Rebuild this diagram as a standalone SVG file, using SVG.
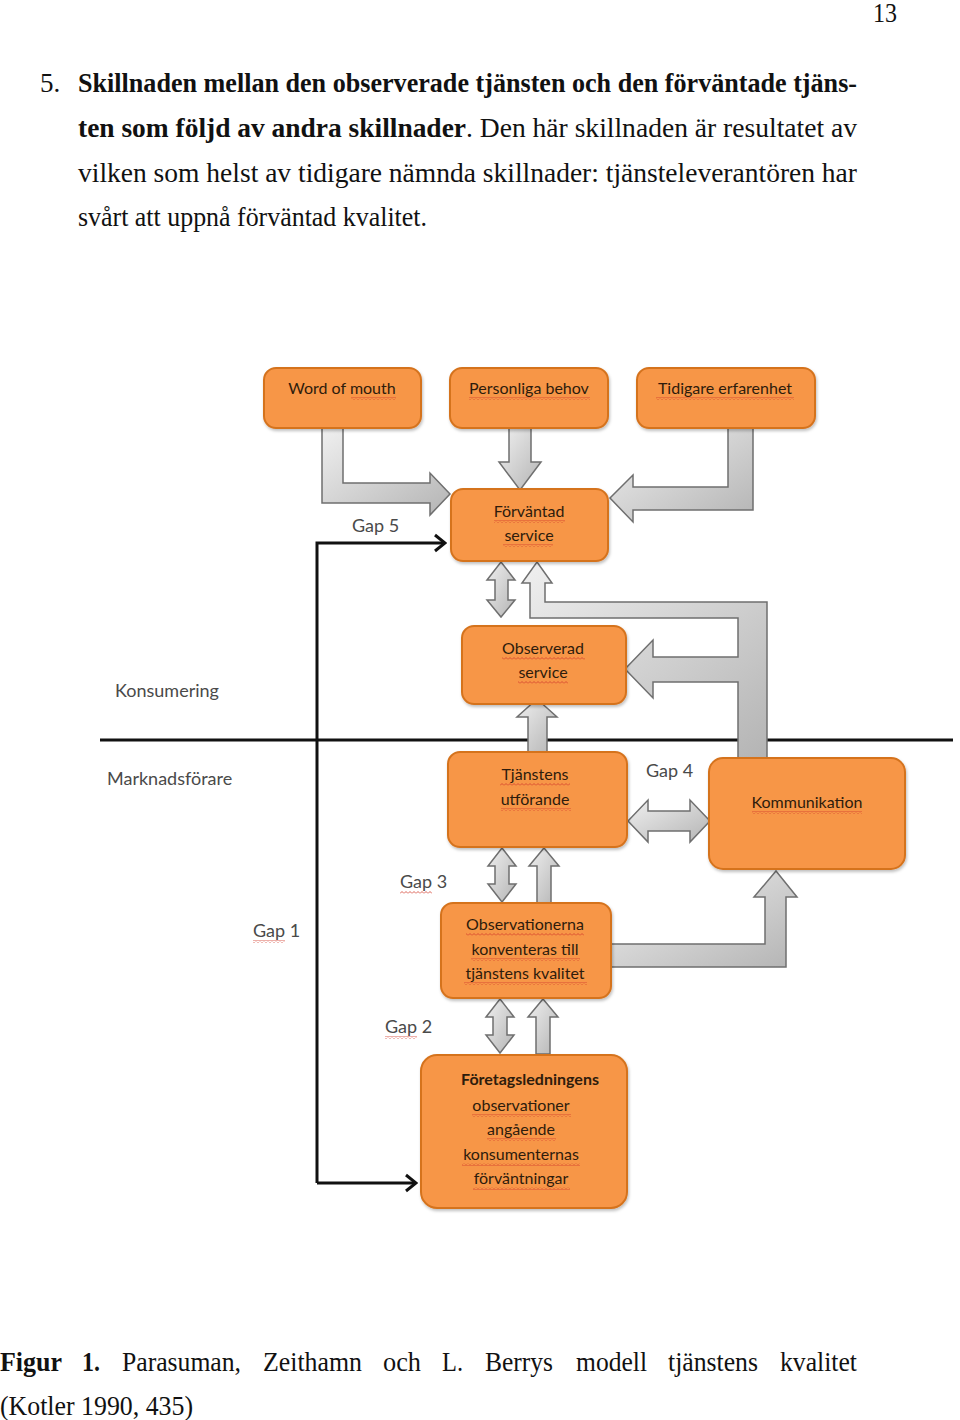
<svg xmlns="http://www.w3.org/2000/svg" width="960" height="1420" viewBox="0 0 960 1420">
<style>
.p{font-family:"Liberation Serif","Times New Roman",serif;font-size:27px;fill:#111}
.b{font-weight:bold}
.bx{fill:#F79646;stroke:#D5731F;stroke-width:2}
.t{font-family:Lato,"Noto Sans",sans-serif;font-size:16px;fill:#2e1c0c;text-anchor:middle}
.lbl{font-family:Lato,"Noto Sans",sans-serif;font-size:18px;fill:#4a4a4a}
.ga{fill:url(#gg);stroke:#6f6f6f;stroke-width:1.5;stroke-linejoin:miter}
.bl{fill:none;stroke:#111;stroke-width:3}
.sq{fill:url(#wave)}
</style>
<defs>
<linearGradient id="gg" x1="0" y1="0" x2="1" y2="1">
<stop offset="0" stop-color="#f0f0f0"/>
<stop offset="1" stop-color="#b4b4b4"/>
</linearGradient>
<pattern id="wave" width="4" height="3" patternUnits="userSpaceOnUse">
<path d="M0 2.5 L2 0.5 L4 2.5" fill="none" stroke="#d23a2a" stroke-width="0.8"/>
</pattern>
<filter id="sh" x="-10%" y="-10%" width="120%" height="130%">
<feDropShadow dx="1" dy="2" stdDeviation="1.5" flood-color="#000" flood-opacity="0.25"/>
</filter>
<marker id="ch" markerWidth="14" markerHeight="20" refX="12" refY="10" orient="auto" markerUnits="userSpaceOnUse">
<path d="M2 2 L12 10 L2 18" fill="none" stroke="#111" stroke-width="3"/>
</marker>
</defs>
<rect width="960" height="1420" fill="#fff"/>

<!-- page text -->
<text class="p" x="873" y="22" font-size="24" textLength="24" lengthAdjust="spacingAndGlyphs">13</text>
<text class="p" x="40" y="92">5.</text>
<text class="p b" x="78" y="92" textLength="779" lengthAdjust="spacingAndGlyphs">Skillnaden mellan den observerade tjänsten och den förväntade tjäns-</text>
<text class="p b" x="78" y="137" textLength="388" lengthAdjust="spacingAndGlyphs">ten som följd av andra skillnader</text>
<text class="p" x="466" y="137" textLength="391" lengthAdjust="spacingAndGlyphs">. Den här skillnaden är resultatet av</text>
<text class="p" x="78" y="182" textLength="779" lengthAdjust="spacingAndGlyphs">vilken som helst av tidigare nämnda skillnader: tjänsteleverantören har</text>
<text class="p" x="78" y="226" textLength="349" lengthAdjust="spacingAndGlyphs">svårt att uppnå förväntad kvalitet.</text>

<!-- separator line and labels -->
<line x1="100" y1="740" x2="953" y2="740" stroke="#111" stroke-width="3"/>
<text class="lbl" x="115" y="697">Konsumering</text>
<text class="lbl" x="107" y="785">Marknadsförare</text>

<!-- connectors -->
<g id="connectors">
<path class="bl" d="M317 1183 L317 543 L445 543" marker-end="url(#ch)"/>
<path class="bl" d="M317 1183 L416 1183" marker-end="url(#ch)"/>
<path class="ga" d="M322 428 L343 428 L343 483 L430 483 L430 473 L450 494 L430 515 L430 503 L322 503 Z"/>
<path class="ga" d="M509 428 L531 428 L531 462 L541 462 L520 490 L499 462 L509 462 Z"/>
<path class="ga" d="M728 428 L753 428 L753 510 L633 510 L633 522 L610 498 L633 475 L633 487 L728 487 Z"/>
<path class="ga" d="M501 562 L515 580 L508 580 L508 600 L515 600 L501 617 L487 600 L495 600 L495 580 L487 580 Z"/>
<path class="ga" d="M537 562 L552 583 L545 583 L545 602 L767 602 L767 758 L738 758 L738 682 L653 682 L653 698 L625 669 L653 640 L653 657 L738 657 L738 618 L530 618 L530 583 L522 583 Z"/>
<path class="ga" d="M537 699 L557 717 L547 717 L547 752 L528 752 L528 717 L517 717 Z"/>
<path class="ga" d="M628 821 L648 800 L648 811 L690 811 L690 800 L710 821 L690 842 L690 831 L648 831 L648 842 Z"/>
<path class="ga" d="M502 848 L516 866 L509 866 L509 884 L516 884 L502 902 L488 884 L495 884 L495 866 L488 866 Z"/>
<path class="ga" d="M544 848 L559 866 L551 866 L551 903 L537 903 L537 866 L529 866 Z"/>
<path class="ga" d="M611 944 L765 944 L765 897 L754 897 L776 871 L797 897 L786 897 L786 967 L611 967 Z"/>
<path class="ga" d="M500 999 L514 1017 L507 1017 L507 1035 L514 1035 L500 1053 L486 1035 L493 1035 L493 1017 L486 1017 Z"/>
<path class="ga" d="M543 999 L558 1017 L550 1017 L550 1054 L536 1054 L536 1017 L528 1017 Z"/>
</g>

<!-- gap labels -->
<text class="lbl" x="352" y="532">Gap 5</text>
<text class="lbl" x="646" y="777">Gap 4</text>
<text class="lbl" x="400" y="888">Gap 3</text>
<rect class="sq" x="400" y="891" width="32" height="3"/>
<text class="lbl" x="253" y="937">Gap 1</text>
<rect class="sq" x="253" y="940" width="32" height="3"/>
<text class="lbl" x="385" y="1033">Gap 2</text>
<rect class="sq" x="385" y="1036" width="32" height="3"/>

<!-- nodes -->
<g id="word-of-mouth">
<rect class="bx" x="264" y="368" width="157" height="60" rx="12" filter="url(#sh)"/>
<text class="t" x="342" y="394">Word of mouth</text>
<rect class="sq" x="351" y="397" width="45" height="3"/>
</g>
<g id="personliga-behov">
<rect class="bx" x="450" y="368" width="158" height="60" rx="12" filter="url(#sh)"/>
<text class="t" x="529" y="394">Personliga behov</text>
<rect class="sq" x="469" y="397" width="121" height="3"/>
</g>
<g id="tidigare-erfarenhet">
<rect class="bx" x="637" y="368" width="178" height="60" rx="12" filter="url(#sh)"/>
<text class="t" x="725" y="394">Tidigare erfarenhet</text>
<rect class="sq" x="656" y="397" width="138" height="3"/>
</g>
<g id="forvantad-service">
<rect class="bx" x="451" y="489" width="157" height="72" rx="12" filter="url(#sh)"/>
<text class="t" x="529" y="517">Förväntad</text>
<rect class="sq" x="494" y="520" width="71" height="3"/>
<text class="t" x="529" y="541">service</text>
<rect class="sq" x="503" y="544" width="50" height="3"/>
</g>
<g id="observerad-service">
<rect class="bx" x="462" y="626" width="164" height="78" rx="12" filter="url(#sh)"/>
<text class="t" x="543" y="654">Observerad</text>
<rect class="sq" x="502" y="657" width="83" height="3"/>
<text class="t" x="543" y="678">service</text>
<rect class="sq" x="518" y="681" width="50" height="3"/>
</g>
<g id="tjanstens-utforande">
<rect class="bx" x="448" y="752" width="179" height="95" rx="12" filter="url(#sh)"/>
<text class="t" x="535" y="780">Tjänstens</text>
<rect class="sq" x="500" y="783" width="70" height="3"/>
<text class="t" x="535" y="805">utförande</text>
<rect class="sq" x="501" y="808" width="70" height="3"/>
</g>
<g id="kommunikation">
<rect class="bx" x="709" y="758" width="196" height="111" rx="14" filter="url(#sh)"/>
<text class="t" x="807" y="808">Kommunikation</text>
<rect class="sq" x="752" y="811" width="110" height="3"/>
</g>
<g id="observationerna">
<rect class="bx" x="441" y="903" width="170" height="95" rx="12" filter="url(#sh)"/>
<text class="t" x="525" y="930">Observationerna</text>
<rect class="sq" x="466" y="933" width="118" height="3"/>
<text class="t" x="525" y="955">konventeras till</text>
<rect class="sq" x="471" y="958" width="109" height="3"/>
<text class="t" x="525" y="979">tjänstens kvalitet</text>
<rect class="sq" x="464" y="982" width="123" height="3"/>
</g>
<g id="foretagsledningens">
<rect class="bx" x="421" y="1055" width="206" height="153" rx="16" filter="url(#sh)"/>
<text class="t" x="530" y="1085" font-weight="bold" font-size="17">Företagsledningens</text>
<text class="t" x="521" y="1111">observationer</text>
<rect class="sq" x="472" y="1114" width="99" height="3"/>
<text class="t" x="521" y="1135">angående</text>
<rect class="sq" x="487" y="1138" width="69" height="3"/>
<text class="t" x="521" y="1160">konsumenternas</text>
<rect class="sq" x="462" y="1163" width="118" height="3"/>
<text class="t" x="521" y="1184">förväntningar</text>
<rect class="sq" x="473" y="1187" width="97" height="3"/>
</g>

<!-- caption -->
<text class="p b" x="0" y="1371" textLength="62" lengthAdjust="spacingAndGlyphs">Figur</text>
<text class="p b" x="82" y="1371" textLength="18" lengthAdjust="spacingAndGlyphs">1.</text>
<text class="p" x="122" y="1371" textLength="119" lengthAdjust="spacingAndGlyphs">Parasuman,</text>
<text class="p" x="263" y="1371" textLength="99" lengthAdjust="spacingAndGlyphs">Zeithamn</text>
<text class="p" x="383" y="1371" textLength="38" lengthAdjust="spacingAndGlyphs">och</text>
<text class="p" x="442" y="1371" textLength="21" lengthAdjust="spacingAndGlyphs">L.</text>
<text class="p" x="485" y="1371" textLength="68" lengthAdjust="spacingAndGlyphs">Berrys</text>
<text class="p" x="576" y="1371" textLength="71" lengthAdjust="spacingAndGlyphs">modell</text>
<text class="p" x="668" y="1371" textLength="90" lengthAdjust="spacingAndGlyphs">tjänstens</text>
<text class="p" x="780" y="1371" textLength="77" lengthAdjust="spacingAndGlyphs">kvalitet</text>
<text class="p" x="0" y="1415" textLength="193" lengthAdjust="spacingAndGlyphs">(Kotler 1990, 435)</text>
</svg>
